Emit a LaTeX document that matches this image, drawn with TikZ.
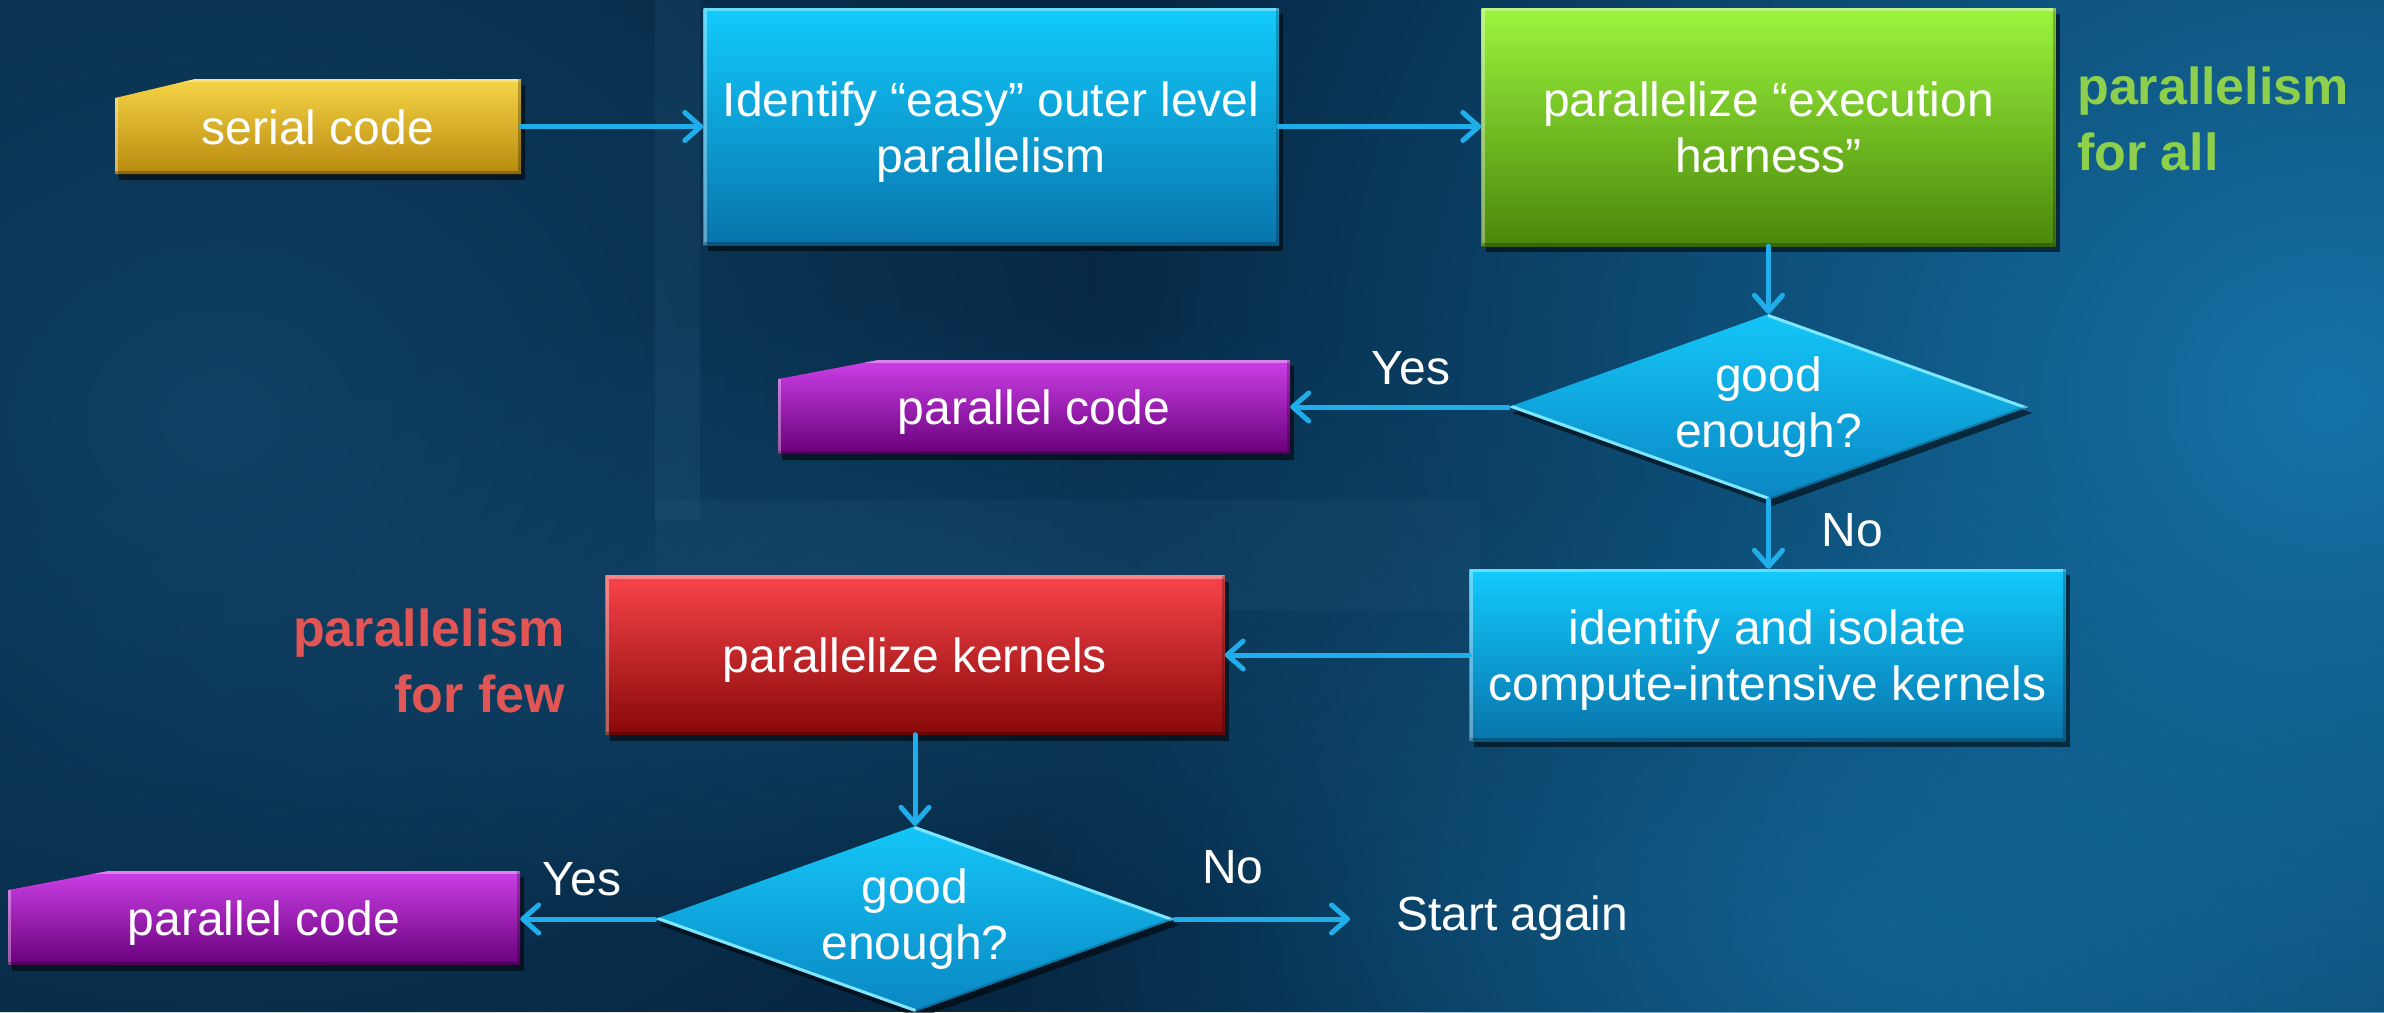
\documentclass[tikz,border=0pt]{standalone}
\usepackage{fontspec}
\setmainfont{Liberation Sans}
\usetikzlibrary{arrows.meta,shapes.geometric,shadows,fadings}

\definecolor{bgbase}{HTML}{062743}
\definecolor{bgglowR}{HTML}{1573A8}
\definecolor{bgglowL}{HTML}{12476C}
\definecolor{bgpanel}{HTML}{3A6E8E}
\definecolor{arrowblue}{HTML}{1FAEEA}
\definecolor{yeltop}{HTML}{F6D447}
\definecolor{yelbot}{HTML}{B88A0E}
\definecolor{bluetop}{HTML}{12CBFD}
\definecolor{bluebot}{HTML}{0874AC}
\definecolor{grntop}{HTML}{9CF53E}
\definecolor{grnbot}{HTML}{4A860A}
\definecolor{redtop}{HTML}{F8444A}
\definecolor{redbot}{HTML}{880808}
\definecolor{purtop}{HTML}{CC40E8}
\definecolor{purbot}{HTML}{68007A}
\definecolor{diatop}{HTML}{14C6F8}
\definecolor{diabot}{HTML}{0A86C2}
\definecolor{diaedge}{HTML}{7FE6FF}
\definecolor{lblgreen}{HTML}{8ED04C}
\definecolor{lblred}{HTML}{E25555}

\tikzfading[name=softspot, inner color=transparent!0, outer color=transparent!100]

% line box of a slide text line: ascent above, descent below the baseline
\newcommand\linetop{\rule{0pt}{46pt}}
\newcommand\linebot{\rule[-11pt]{0pt}{11pt}}

\tikzset{
  txt/.style={text=white, font=\fontsize{48}{56}\selectfont, align=center, inner sep=0pt},
  shadowed/.style={drop shadow={shadow xshift=4pt, shadow yshift=-6pt, opacity=0.55, fill=black}},
  bevel/.style={path picture={
      \draw[white, opacity=0.35, line width=6pt]
        (path picture bounding box.south west) -- (path picture bounding box.north west)
        -- (path picture bounding box.north east);
      \draw[black, opacity=0.25, line width=6pt]
        (path picture bounding box.north east) -- (path picture bounding box.south east)
        -- (path picture bounding box.south west);}},
  box/.style={txt, rectangle, shadowed, bevel, minimum width=#1},
  bluebox/.style={box=#1, top color=bluetop, bottom color=bluebot},
  greenbox/.style={box=#1, top color=grntop, bottom color=grnbot},
  redbox/.style={box=#1, top color=redtop, bottom color=redbot},
  decision/.style={txt, shape=diamond, aspect=2.8, minimum width=520pt, minimum height=186pt,
    top color=diatop, bottom color=diabot, shadowed,
    path picture={
      \draw[diaedge, line width=6pt]
        (path picture bounding box.north) -- (path picture bounding box.east);
      \draw[diaedge, line width=6pt]
        (path picture bounding box.west) -- (path picture bounding box.south);
      \draw[black, opacity=0.2, line width=4pt]
        (path picture bounding box.east) -- (path picture bounding box.south);}},
  plain/.style={txt, rectangle, minimum width=#1},
  answer/.style={txt},
  sidelabel/.style={font=\fontsize{52}{66}\selectfont\bfseries, inner sep=0pt},
  arr/.style={draw=arrowblue, line width=5pt, line cap=round,
    -{Straight Barb[length=16pt, width=28pt, round]}},
}

\begin{document}
\begin{tikzpicture}[x=1pt, y=-1pt]
  \useasboundingbox (0,0) rectangle (2384,1012);

  % backdrop
  \fill[bgbase] (0,0) rectangle (2384,1012);
  \fill[bgglowR, path fading=softspot] (2330,400) ellipse (1250 and 1150);
  \fill[bgglowR, path fading=softspot, opacity=0.6] (1900,950) ellipse (900 and 500);
  \fill[bgglowL, path fading=softspot, opacity=0.8] (220,420) ellipse (950 and 800);
  \fill[bgglowL, path fading=softspot, opacity=0.7] (900,620) ellipse (1000 and 320);
  \fill[bgpanel, opacity=0.15] (655,0) rectangle (700,520);
  \fill[bgpanel, opacity=0.10] (655,500) rectangle (1480,610);

  % chamfered terminal shapes
  \fill[shadowed, bevel, top color=yeltop, bottom color=yelbot]
    (115,174) -- (115,98) -- (195,79) -- (521,79) -- (521,174) -- cycle;
  \fill[shadowed, bevel, top color=purtop, bottom color=purbot]
    (778,454) -- (778,379) -- (878,360) -- (1290,360) -- (1290,454) -- cycle;
  \fill[shadowed, bevel, top color=purtop, bottom color=purbot]
    (8,965) -- (8,890) -- (108,871) -- (520,871) -- (520,965) -- cycle;

  % nodes
  \node[plain=406pt, minimum height=95pt] (serial) at (318,126.5) {\linetop serial code\linebot};
  \node[bluebox=575pt, minimum height=237pt] (ident) at (991,126.5)
    {\linetop Identify “easy” outer level\\parallelism\linebot};
  \node[greenbox=574pt, minimum height=238pt] (harness) at (1768.5,127)
    {\linetop parallelize “execution\\harness”\linebot};
  \node[decision] (good1) at (1768.5,407) {good\\enough?};
  \node[plain=512pt, minimum height=94pt] (par1) at (1034,407) {\linetop parallel code\linebot};
  \node[bluebox=596pt, minimum height=172pt] (isolate) at (1767.5,655)
    {\linetop identify and isolate\\compute-intensive kernels\linebot};
  \node[redbox=619pt, minimum height=159pt] (kernels) at (915,655) {\linetop parallelize kernels\linebot};
  \node[decision] (good2) at (915,919) {good\\enough?};
  \node[plain=512pt, minimum height=94pt] (par2) at (264,918) {\linetop parallel code\linebot};
  \node[txt, anchor=west, inner xsep=46pt] (again) at (1350,918) {Start again};

  % side notes
  \node[sidelabel, text=lblgreen, anchor=west, align=left] (forall) at (2077,119) {parallelism\\for all};
  \node[sidelabel, text=lblred, anchor=east, align=right] (forfew) at (565,661) {parallelism\\for few};

  % connectors
  \draw[arr] (serial.east) -- (serial.east -| ident.west);
  \draw[arr] (ident.east) -- (ident.east -| harness.west);
  \draw[arr] (harness.south) -- (harness.south |- good1.north);
  \draw[arr] (good1.west) -- (good1.west -| par1.east);
  \draw[arr] (good1.south) -- (good1.south |- isolate.north);
  \draw[arr] (isolate.west) -- (isolate.west -| kernels.east);
  \draw[arr] (kernels.south) -- (kernels.south |- good2.north);
  \draw[arr] (good2.west) -- (good2.west -| par2.east);
  \draw[arr] (good2.east) -- (good2.east -| again.west);

  % branch answers
  \node[answer] (yes1) at (1411,368) {Yes};
  \node[answer] (no1) at (1852,530) {No};
  \node[answer] (yes2) at (582,879) {Yes};
  \node[answer] (no2) at (1233,867) {No};
\end{tikzpicture}
\end{document}
